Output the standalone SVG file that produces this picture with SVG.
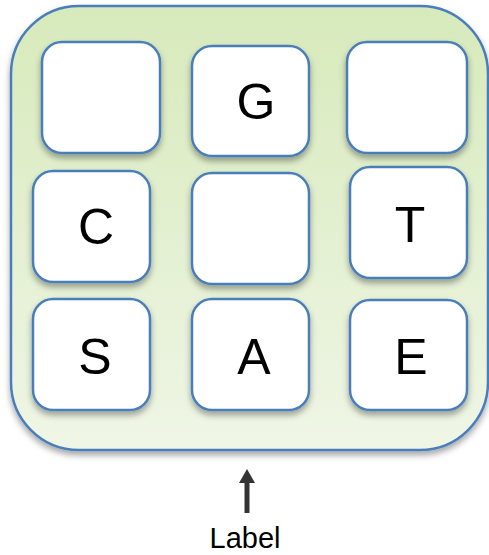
<svg xmlns="http://www.w3.org/2000/svg" width="489" height="555" viewBox="0 0 489 555">
<style>
.box{fill:#fff;stroke:#4a7ebb;stroke-width:2.5;filter:url(#sh)}
.lt{font-family:"Liberation Sans",Arial,sans-serif;font-size:50px;fill:#000;text-anchor:middle}
.lbl{font-family:"Liberation Sans",Arial,sans-serif;font-size:29px;fill:#000;text-anchor:middle}
</style>
<defs>
<linearGradient id="g" x1="0" y1="0" x2="0" y2="1">
<stop offset="0" stop-color="#d7eabb"/>
<stop offset="1" stop-color="#eff6e6"/>
</linearGradient>
<filter id="sh" x="-20%" y="-20%" width="140%" height="150%">
<feDropShadow dx="0" dy="4" stdDeviation="3" flood-color="#000" flood-opacity="0.35"/>
</filter>
<marker id="ah" markerWidth="3" markerHeight="3.2" refX="0.5" refY="1.6" orient="auto" markerUnits="strokeWidth">
<path d="M0,0 L2.8,1.6 L0,3.2 Z" fill="#333"/>
</marker>
</defs>
<g id="container">
<rect x="11" y="6" width="477" height="444" rx="68" ry="68" fill="url(#g)" stroke="#4a7ebb" stroke-width="2.5" filter="url(#sh)"/>
</g>
<g id="n1"><rect class="box" x="42" y="42" width="118" height="111" rx="20"/></g>
<g id="nG"><rect class="box" x="192" y="46" width="117" height="110" rx="20"/><text class="lt" x="256" y="119">G</text></g>
<g id="n3"><rect class="box" x="347" y="42" width="120" height="111" rx="20"/></g>
<g id="nC"><rect class="box" x="33" y="171" width="117" height="111" rx="20"/><text class="lt" x="96" y="244">C</text></g>
<g id="n5"><rect class="box" x="192" y="173" width="117" height="111" rx="20"/></g>
<g id="nT"><rect class="box" x="350" y="167" width="117" height="111" rx="20"/><text class="lt" x="410" y="242">T</text></g>
<g id="nS"><rect class="box" x="33" y="299" width="117" height="111" rx="20"/><text class="lt" x="95" y="374">S</text></g>
<g id="nA"><rect class="box" x="192" y="299" width="117" height="111" rx="20"/><text class="lt" x="254" y="374">A</text></g>
<g id="nE"><rect class="box" x="350" y="300" width="117" height="110" rx="20"/><text class="lt" x="411" y="374">E</text></g>
<g id="connectors">
<line x1="247" y1="513" x2="247" y2="480.5" stroke="#333" stroke-width="5" marker-end="url(#ah)"/>
</g>
<text class="lbl" x="245" y="548">Label</text>
</svg>
